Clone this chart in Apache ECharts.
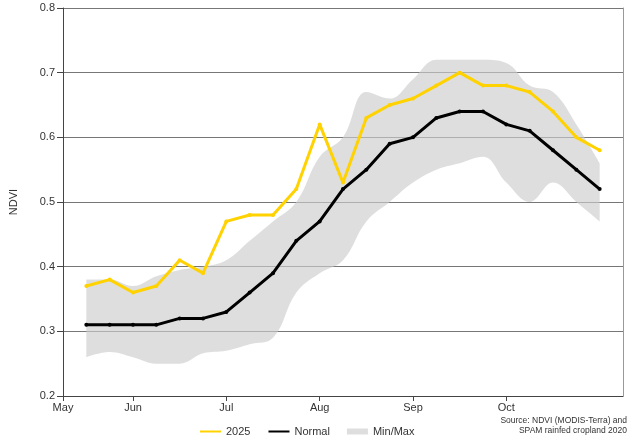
<!DOCTYPE html>
<html>
<head>
<meta charset="utf-8">
<script src="https://cdn.jsdelivr.net/npm/echarts@6/dist/echarts.min.js"></script>
<style>html,body{margin:0;padding:0;background:#fff}#c{width:627px;height:440px}</style>
</head>
<body>
<div id="c"></div>
<script>
// Quarter-month periods; the axis starts at the 2nd quarter of May
var periodLabels = ['May-2','May-3','May-4','Jun-1','Jun-2','Jun-3','Jun-4','Jul-1','Jul-2','Jul-3','Jul-4',
  'Aug-1','Aug-2','Aug-3','Aug-4','Sep-1','Sep-2','Sep-3','Sep-4','Oct-1','Oct-2','Oct-3','Oct-4','Nov-1','Nov-2'];
var labelledMonths = ['May','Jun','Jul','Aug','Sep','Oct'];
var yTicks = [0.2,0.3,0.4,0.5,0.6,0.7,0.8];

// values for periods May-3 ... Nov-1
var ndvi2025 = [0.37,0.38,0.36,0.37,0.41,0.39,0.47,0.48,0.48,0.52,0.62,0.53,0.63,0.65,0.66,0.68,0.70,0.68,0.68,0.67,0.64,0.60,0.58];
var ndviNormal = [0.31,0.31,0.31,0.31,0.32,0.32,0.33,0.36,0.39,0.44,0.47,0.52,0.55,0.59,0.60,0.63,0.64,0.64,0.62,0.61,0.58,0.55,0.52];
var ndviMax = [0.38,0.38,0.37,0.385,0.395,0.40,0.41,0.44,0.47,0.50,0.57,0.60,0.67,0.66,0.69,0.72,0.72,0.72,0.715,0.68,0.67,0.62,0.56];
var ndviMin = [0.26,0.268,0.26,0.25,0.25,0.266,0.27,0.28,0.29,0.36,0.39,0.41,0.47,0.50,0.53,0.55,0.56,0.57,0.53,0.50,0.53,0.50,0.47];

function pad(vals){ return ['-'].concat(vals, ['-']); }
var bandDiff = ndviMax.map(function(v,i){ return +(v - ndviMin[i]).toFixed(4); });
function isMonthMark(i, v){
  var m = String(v).split('-');
  if (labelledMonths.indexOf(m[0]) < 0) return false;
  return i === 0 || m[1] === '1';
}

var chart = echarts.init(document.getElementById('c'), null, {renderer:'canvas'});
var font = 'Liberation Sans, Arial, sans-serif';
chart.setOption({
  animation: false,
  textStyle: {fontFamily: font},
  grid: {left: 61, right: 4, top: 8, bottom: 44},
  legend: {
    left: 199, top: 426, padding: 0, itemWidth: 21, itemHeight: 6, itemGap: 17,
    textStyle: {fontSize: 11, color: '#333', fontFamily: font},
    data: [
      {name:'2025', itemStyle: {opacity: 0}},
      {name:'Normal', itemStyle: {opacity: 0}},
      {name:'Min/Max', icon:'rect', itemStyle: {color: '#DEDEDE', opacity: 1}}
    ]
  },
  xAxis: {
    type: 'category', boundaryGap: false, data: periodLabels,
    axisLine: {show: true, lineStyle: {color: '#444', width: 1}},
    axisTick: {show: true, length: 5, lineStyle: {color: '#444'}, interval: isMonthMark},
    axisLabel: {fontSize: 11, color: '#333', margin: 6, interval: isMonthMark,
      formatter: function(v){ return String(v).split('-')[0]; }},
    splitLine: {show: false}
  },
  yAxis: [{
    type: 'value', min: 0.2, max: 0.8, interval: 0.1,
    name: 'NDVI', nameLocation: 'middle', nameGap: 44, nameRotate: 90,
    nameTextStyle: {fontSize: 11, color: '#333'},
    axisLine: {show: true, lineStyle: {color: '#444', width: 1}},
    axisTick: {show: true, length: 6, lineStyle: {color: '#444'}},
    axisLabel: {fontSize: 11, color: '#333', margin: 8, formatter: function(v){ return v.toFixed(1); }},
    splitLine: {show: true, lineStyle: {color: '#777', width: 1}}
  },{
    type: 'value', min: 0.2, max: 0.8, interval: 0.1, position: 'right',
    axisLine: {show: true, lineStyle: {color: '#999', width: 1}},
    axisTick: {show: false}, axisLabel: {show: false}, splitLine: {show: false}
  }],
  series: [
    {name: 'minBase', type: 'line', stack: 'band', data: pad(ndviMin), smooth: 0.4,
     symbol: 'none', lineStyle: {opacity: 0}, silent: true, z: 1},
    {name: 'Min/Max', type: 'line', stack: 'band', data: pad(bandDiff), smooth: 0.4,
     symbol: 'none', lineStyle: {opacity: 0}, areaStyle: {color: 'rgba(204,204,204,0.65)', opacity: 1},
     itemStyle: {color: '#DEDEDE'}, silent: true, z: 1},
    {name: 'Normal', type: 'line', data: pad(ndviNormal), symbol: 'circle', symbolSize: 4,
     lineStyle: {color: '#000', width: 3}, itemStyle: {color: '#000'}, z: 3},
    {name: '2025', type: 'line', data: pad(ndvi2025), symbol: 'circle', symbolSize: 4,
     lineStyle: {color: '#FFD200', width: 3}, itemStyle: {color: '#FFD200'}, z: 4}
  ],
  graphic: [
    {type: 'text', right: 0, top: 416, style: {text: 'Source: NDVI (MODIS-Terra) and', fill: '#333', font: '8.5px ' + font, textAlign: 'right'}},
    {type: 'text', right: 0, top: 426, style: {text: 'SPAM rainfed cropland 2020', fill: '#333', font: '8.5px ' + font, textAlign: 'right'}}
  ]
});
</script>
</body>
</html>
